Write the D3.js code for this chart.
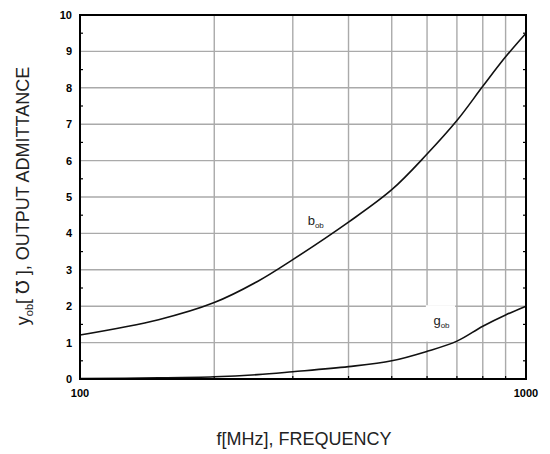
<!DOCTYPE html>
<html>
<head>
<meta charset="utf-8">
<script src="https://cdn.jsdelivr.net/npm/d3@7"></script>
<style>
  html, body { margin: 0; padding: 0; background: #fff; }
  svg { display: block; }
</style>
</head>
<body>
<svg id="chart" width="550" height="454"></svg>
<script>
// ---- data ----
const freq = [100, 150, 200, 250, 300, 400, 500, 600, 700, 800, 900, 1000];   // MHz
const bob  = [1.21, 1.63, 2.10, 2.68, 3.28, 4.31, 5.20, 6.18, 7.10, 8.04, 8.85, 9.50];
const gob  = [0.01, 0.03, 0.06, 0.12, 0.20, 0.34, 0.50, 0.76, 1.04, 1.45, 1.76, 2.00];
const xGrid = [200, 300, 400, 500, 600, 700, 800, 900];
const xTickLabels = [100, 1000];
const yTicks = [0, 1, 2, 3, 4, 5, 6, 7, 8, 9, 10];
const yMinor = [0.5, 1.5, 2.5, 3.5, 4.5, 5.5, 6.5, 7.5, 8.5, 9.5];

// ---- layout ----
const svg = d3.select("#chart");
const m = { left: 80, top: 15, right: 24, bottom: 75 };
const W = 550 - m.left - m.right, H = 454 - m.top - m.bottom;
const FONT = "'Liberation Sans', Arial, 'DejaVu Sans', sans-serif";

const x = d3.scaleLog().domain([100, 1000]).range([m.left, m.left + W]);
const y = d3.scaleLinear().domain([0, 10]).range([m.top + H, m.top]);

const g = svg.append("g");

// grid
g.selectAll(".vg").data(xGrid).join("line")
  .attr("x1", d => x(d)).attr("x2", d => x(d))
  .attr("y1", y(10)).attr("y2", y(0))
  .attr("stroke", "#aaaaaa").attr("stroke-width", 1.4);
g.selectAll(".hg").data(yTicks.slice(1, -1)).join("line")
  .attr("x1", x(100)).attr("x2", x(1000))
  .attr("y1", d => y(d)).attr("y2", d => y(d))
  .attr("stroke", "#aaaaaa").attr("stroke-width", 1.4);

// white box behind the g label (covers the grid cell 600-700 / 1-2)
g.append("rect")
  .attr("x", x(600) - 1.2).attr("y", y(2) - 1)
  .attr("width", x(700) - x(600) - 0.6).attr("height", y(1) - y(2))
  .attr("fill", "#fff");

// minor ticks on axes
g.selectAll(".ml").data(yMinor).join("line")
  .attr("x1", x(100)).attr("x2", x(100) + 3)
  .attr("y1", d => y(d)).attr("y2", d => y(d))
  .attr("stroke", "#000").attr("stroke-width", 1.2);
g.selectAll(".mr").data(yMinor).join("line")
  .attr("x1", x(1000)).attr("x2", x(1000) - 3)
  .attr("y1", d => y(d)).attr("y2", d => y(d))
  .attr("stroke", "#000").attr("stroke-width", 1.2);
g.selectAll(".mb").data(xGrid).join("line")
  .attr("x1", d => x(d)).attr("x2", d => x(d))
  .attr("y1", y(0)).attr("y2", y(0) - 3)
  .attr("stroke", "#000").attr("stroke-width", 1.2);

// curves
const line = (vals) => d3.line()
  .x((d, i) => x(freq[i]))
  .y(d => y(d))
  .curve(d3.curveCatmullRom.alpha(0.5))(vals);

g.append("path").attr("d", line(bob))
  .attr("fill", "none").attr("stroke", "#111").attr("stroke-width", 1.6);
g.append("path").attr("d", line(gob))
  .attr("fill", "none").attr("stroke", "#111").attr("stroke-width", 1.6);

// frame
g.append("rect")
  .attr("x", x(100)).attr("y", y(10))
  .attr("width", x(1000) - x(100)).attr("height", y(0) - y(10))
  .attr("fill", "none").attr("stroke", "#000").attr("stroke-width", 2);

// y tick labels
g.selectAll(".yl").data(yTicks).join("text")
  .attr("x", x(100) - 8).attr("y", d => y(d) + 4)
  .attr("text-anchor", "end")
  .attr("font-family", FONT).attr("font-weight", "bold").attr("font-size", 11)
  .attr("fill", "#000")
  .text(d => d);

// x tick labels
g.selectAll(".xl").data(xTickLabels).join("text")
  .attr("x", d => x(d)).attr("y", y(0) + 18)
  .attr("text-anchor", "middle")
  .attr("font-family", FONT).attr("font-weight", "bold").attr("font-size", 11)
  .attr("fill", "#000")
  .text(d => d);

// curve labels
function curveLabel(main, sub, px, py) {
  const t = g.append("text").attr("x", px).attr("y", py)
    .attr("font-family", FONT).attr("font-size", 13).attr("fill", "#222");
  t.append("tspan").text(main);
  t.append("tspan").attr("font-size", 8).attr("dy", 2.5).text(sub);
}
curveLabel("b", "ob", x(324), y(4.23));
curveLabel("g", "ob", x(620), y(1.47));

// axis titles
svg.append("text")
  .attr("x", 304).attr("y", 445)
  .attr("text-anchor", "middle")
  .attr("font-family", FONT).attr("font-size", 18).attr("fill", "#222")
  .text("f[MHz], FREQUENCY");

const yt = svg.append("text")
  .attr("transform", "translate(29,196) rotate(-90)")
  .attr("text-anchor", "middle")
  .attr("font-family", FONT).attr("font-size", 18).attr("fill", "#222");
yt.append("tspan").text("y");
yt.append("tspan").attr("font-size", 11).attr("dy", 4).text("ob");
yt.append("tspan").attr("dy", -4).text("[ ℧ ], OUTPUT ADMITTANCE");
</script>
</body>
</html>
